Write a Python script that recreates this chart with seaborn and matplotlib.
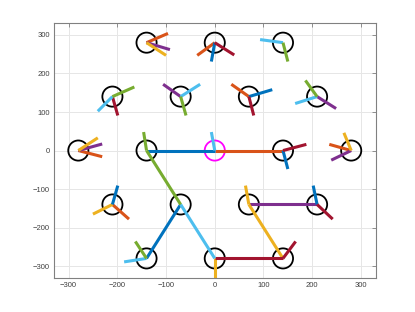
import pandas as pd
import seaborn as sns
import matplotlib.pyplot as plt

# lattice nodes (black circles) and the centre node (magenta)
node_x = [-140, 0, 140, -210, -70, 70, 210, -280, -140, 140, 280, -210, -70, 70, 210, -140, 0, 140]
node_y = [280, 280, 280, 140, 140, 140, 140, 0, 0, 0, 0, -140, -140, -140, -140, -280, -280, -280]
centre_x = [0]
centre_y = [0]

# line segments: start point, end point, colour name
seg_x0 = [-140, -140, -140, 0, 0, 0, 140, 140,
          -210, -210, -210, -70, -70, -70, 70, 70, 70, 210, 210, 210,
          -280, -280, -280, -140, -140, -140, 0, 0, 140, 140, 280, 280, 280,
          -210, -210, -210, -70, -70, 70, 70, 70, 210, 210,
          -140, -140, 0, 0, 140]
seg_y0 = [280, 280, 280, 280, 280, 280, 280, 280,
          140, 140, 140, 140, 140, 140, 140, 140, 140, 140, 140, 140,
          0, 0, 0, 0, 0, 0, 0, 0, 0, 0, 0, 0, 0,
          -140, -140, -140, -140, -140, -140, -140, -140, -140, -140,
          -280, -280, -280, -280, -280]
seg_x1 = [-96, -92, -100, -36, -7, 40, 93, 150,
          -165, -240, -199, -106, -30, -59, 34, 118, 80, 186, 165, 249,
          -240, -231, -231, -146, -70, 0, -7, 140, 188, 150, 265, 235, 239,
          -199, -250, -176, -140, 0, 63, 210, 140, 202, 242,
          -163, -186, 0, 140, 166]
seg_y1 = [304, 262, 247, 247, 231, 248, 288, 231,
          165, 102, 91, 172, 172, 91, 172, 158, 91, 182, 122, 109,
          33, 17, -16, 48, -140, 0, 48, 0, 16, -48, 46, 16, -25,
          -91, -165, -178, -280, -280, -91, -140, -280, -91, -178,
          -236, -289, -340, -280, -236]
seg_color = ["orange", "purple", "yellow", "orange", "blue", "darkred", "lightblue", "green",
             "green", "lightblue", "darkred", "purple", "lightblue", "green", "orange", "blue", "darkred",
             "green", "lightblue", "purple",
             "yellow", "purple", "orange", "green", "green", "blue", "lightblue", "orange", "darkred", "blue",
             "yellow", "orange", "purple",
             "blue", "yellow", "orange", "blue", "lightblue", "yellow", "purple", "yellow", "blue", "darkred",
             "green", "lightblue", "yellow", "darkred", "darkred"]

palette = {"blue": "#0072BD", "orange": "#D95319", "yellow": "#EDB120", "purple": "#7E2F8E",
           "green": "#77AC30", "lightblue": "#4DBEEE", "darkred": "#A2142F"}

ticks = [-300, -200, -100, 0, 100, 200, 300]

rows = []
for i in range(len(seg_x0)):
    rows.append({"seg": i, "x": seg_x0[i], "y": seg_y0[i], "c": seg_color[i]})
    rows.append({"seg": i, "x": seg_x1[i], "y": seg_y1[i], "c": seg_color[i]})
segs = pd.DataFrame(rows)
nodes = pd.DataFrame({"x": node_x, "y": node_y})
centre = pd.DataFrame({"x": centre_x, "y": centre_y})

sns.set_style("whitegrid")
plt.rcParams["font.family"] = ["Liberation Sans", "DejaVu Sans"]

fig = plt.figure(figsize=(4.15, 3.12), dpi=100)
ax = fig.add_axes([0.13, 0.11, 0.775, 0.815])

sns.scatterplot(data=nodes, x="x", y="y", marker="o", s=14.5 ** 2, fc="none", ec="black",
                linewidth=1.3, ax=ax, legend=False, zorder=1)
sns.scatterplot(data=centre, x="x", y="y", marker="o", s=14.5 ** 2, fc="none", ec="#FF00FF",
                linewidth=1.3, ax=ax, legend=False, zorder=1)
sns.lineplot(data=segs, x="x", y="y", units="seg", hue="c", palette=palette, estimator=None,
             sort=False, linewidth=2.2, legend=False, ax=ax, zorder=2, solid_capstyle="butt")

ax.set_xlim(-330, 330)
ax.set_ylim(-330, 330)
ax.set_xticks(ticks)
ax.set_yticks(ticks)
ax.set_xlabel("")
ax.set_ylabel("")
ax.grid(True, color="#e6e6e6", linewidth=0.7)
for s in ax.spines.values():
    s.set_visible(True)
    s.set_color("#808080")
    s.set_linewidth(0.8)
ax.tick_params(direction="in", length=3, width=0.6, color="#808080", labelsize=5.5,
               labelcolor="#404040", top=True, right=True, pad=3)

fig.savefig("out.png", dpi=100)
